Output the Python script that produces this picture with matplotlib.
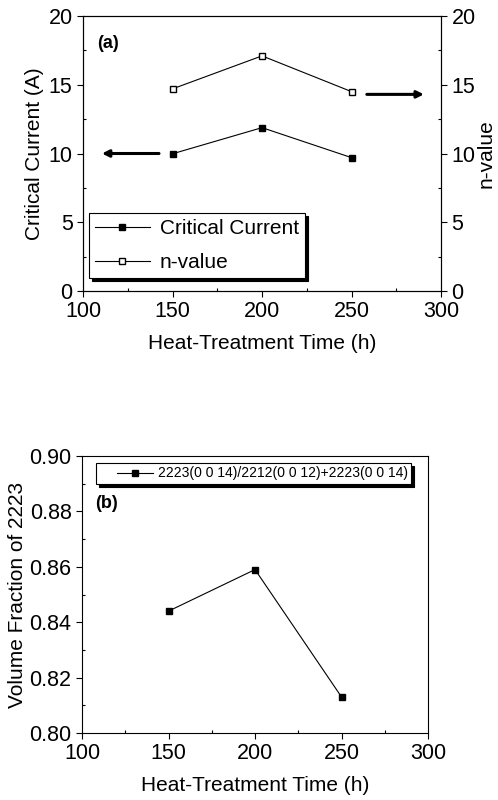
import matplotlib
matplotlib.use("Agg")
import matplotlib.pyplot as plt
from matplotlib.ticker import MultipleLocator
from matplotlib.legend_handler import HandlerLine2D

plt.rcParams["font.family"] = ["Liberation Sans", "DejaVu Sans"]

# data
time_h = [150, 200, 250]
crit_current = [9.98, 11.88, 9.7]
n_value = [14.7, 17.1, 14.5]
vol_frac = [0.844, 0.859, 0.813]

fig = plt.figure(figsize=(4.98, 8), dpi=100)

# ---- (a) ----
ax = fig.add_axes([0.1667, 0.63625, 0.7189, 0.34375])
ax.plot(time_h, crit_current, "-", color="black", lw=0.8, marker="s", ms=5,
        mfc="black", mec="black", label="Critical Current")
ax2 = ax.twinx()
ax2.plot(time_h, n_value, "-", color="black", lw=0.8, marker="s", ms=5,
         mfc="white", mec="black", label="n-value")
ax.set_xlim(100, 300)
ax.set_ylim(0, 20)
ax2.set_ylim(0, 20)
for a in (ax, ax2):
    a.yaxis.set_major_locator(MultipleLocator(5))
    a.yaxis.set_minor_locator(MultipleLocator(2.5))
ax.xaxis.set_major_locator(MultipleLocator(50))
ax.xaxis.set_minor_locator(MultipleLocator(25))
ax.set_xlabel("Heat-Treatment Time (h)", fontsize=15, labelpad=8)
ax.set_ylabel("Critical Current (A)", fontsize=15, labelpad=3)
ax2.set_ylabel("n-value", fontsize=15, labelpad=1)
ax.text(0.04, 0.90, "(a)", transform=ax.transAxes, fontsize=13, fontweight="bold", va="center")

# arrows
ax.annotate("", xy=(109, 10), xytext=(144, 10),
            arrowprops=dict(arrowstyle="-|>", color="black", lw=2.2, mutation_scale=10))
ax.annotate("", xy=(292, 14.3), xytext=(257, 14.3),
            arrowprops=dict(arrowstyle="-|>", color="black", lw=2.2, mutation_scale=10))

h1, l1 = ax.get_legend_handles_labels()
h2, l2 = ax2.get_legend_handles_labels()
leg = ax2.legend(h1 + h2, l1 + l2, loc="lower left", bbox_to_anchor=(0.017, 0.047),
                 borderaxespad=0, fontsize=15, frameon=True, fancybox=False,
                 shadow={"color": "black", "alpha": 1}, handlelength=2.6,
                 labelspacing=0.7, borderpad=0.3, handletextpad=0.5)
leg.get_frame().set_edgecolor("black")
leg.get_frame().set_linewidth(0.8)

# ---- (b) ----
bx = fig.add_axes([0.1647, 0.08375, 0.6948, 0.34625])
line_b, = bx.plot(time_h, vol_frac, "-", color="black", lw=0.8, marker="s", ms=5,
                  mfc="black", mec="black", label="2223(0 0 14)/2212(0 0 12)+2223(0 0 14)")
bx.set_xlim(100, 300)
bx.set_ylim(0.80, 0.90)
bx.xaxis.set_major_locator(MultipleLocator(50))
bx.xaxis.set_minor_locator(MultipleLocator(25))
bx.yaxis.set_major_locator(MultipleLocator(0.02))
bx.yaxis.set_minor_locator(MultipleLocator(0.01))
bx.yaxis.set_major_formatter(plt.FormatStrFormatter("%.2f"))
bx.set_xlabel("Heat-Treatment Time (h)", fontsize=15, labelpad=8)
bx.set_ylabel("Volume Fraction of 2223", fontsize=15, labelpad=2)
bx.text(0.038, 0.83, "(b)", transform=bx.transAxes, fontsize=13, fontweight="bold", va="center")
legb = bx.legend(loc="upper left", bbox_to_anchor=(0.04, 0.975), borderaxespad=0,
                 fontsize=10, frameon=True, fancybox=False,
                 shadow={"color": "black", "alpha": 1}, handlelength=3.9,
                 borderpad=0.25, handletextpad=0.3,
                 handler_map={line_b: HandlerLine2D(xpad=1.3)})
legb.get_frame().set_edgecolor("black")
legb.get_frame().set_linewidth(0.8)

for a in (ax, ax2, bx):
    a.tick_params(which="major", direction="out", length=4, width=0.8, labelsize=15.5)
    a.tick_params(which="minor", direction="in", length=2.5, width=0.8)
    for s in a.spines.values():
        s.set_linewidth(0.8)

fig.savefig("out.png", dpi=100)
